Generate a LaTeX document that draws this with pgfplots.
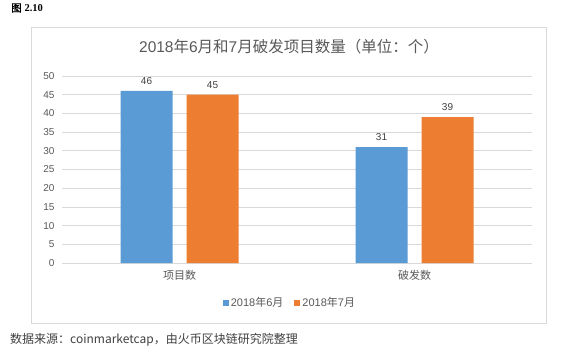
\documentclass[border=0pt]{standalone}
\usepackage{pgfplots}
\pgfplotsset{compat=1.18}
\usepackage{fontspec}
\setmainfont{Liberation Sans}
\newfontfamily\serifb{Liberation Serif}
\newfontfamily\cjk{Noto Sans CJK SC}
\newfontfamily\cjkb[FakeBold=1.5]{Noto Sans CJK SC}
\definecolor{cblue}{HTML}{5B9BD5}
\definecolor{corange}{HTML}{ED7D31}
\definecolor{tgray}{HTML}{595959}
\definecolor{ggray}{HTML}{D9D9D9}
\definecolor{sgray}{HTML}{404040}
\begin{document}
\begin{tikzpicture}[x=1bp,y=1bp]
\fill[white] (0,0) rectangle (570,356);
\draw[ggray, line width=1bp] (31,33) rectangle (546,329);
\node[anchor=west, inner sep=0pt, font=\fontsize{10.5bp}{12bp}\selectfont] at (11,348) {{\cjkb 图} {\serifb\bfseries 2.10}};
\node[inner sep=0pt, text=tgray, font=\fontsize{15.5bp}{18bp}\selectfont] at (289,309) {2018{\cjk 年}6{\cjk 月和}7{\cjk 月破发项目数量（单位：个）}};
\node[anchor=west, inner sep=0pt, text=sgray, font=\fontsize{12bp}{14bp}\selectfont] at (10,16) {\cjk 数据来源：coinmarketcap，由火币区块链研究院整理};
\begin{axis}[
  at={(62bp,93bp)}, anchor=south west,
  scale only axis, width=470bp, height=187bp,
  xmin=-0.5, xmax=1.5, ymin=0, ymax=50,
  ytick={0,5,...,50}, xtick={0,1},
  xticklabels={项目数,破发数},
  axis line style={draw=none},
  major tick length=0pt,
  /pgf/number format/assume math mode=true,
  ymajorgrids, grid style={ggray, line width=0.8bp},
  ybar=14bp, bar width=52bp,
  yticklabel style={text=tgray, font=\fontsize{10bp}{12bp}\selectfont, xshift=-4bp},
  xticklabel style={text=tgray, font=\cjk\fontsize{11bp}{13bp}\selectfont, yshift=-4bp},
  nodes near coords,
  every node near coord/.append style={text=sgray, font=\fontsize{10bp}{12bp}\selectfont, yshift=3bp},
  legend columns=2,
  legend style={draw=none, at={(0.485,-0.214)}, anchor=center, font=\fontsize{11bp}{13bp}\selectfont, text=tgray,
    /tikz/every even column/.append style={column sep=9bp}},
  legend image code/.code={\fill[#1] (0bp,-3bp) rectangle (6bp,3bp);},
  legend cell align=left,
]
\addplot[fill=cblue, draw=none] coordinates {(0,46) (1,31)};
\addplot[fill=corange, draw=none] coordinates {(0,45) (1,39)};
\legend{2018{\cjk 年}6{\cjk 月},2018{\cjk 年}7{\cjk 月}}
\end{axis}
\end{tikzpicture}
\end{document}
